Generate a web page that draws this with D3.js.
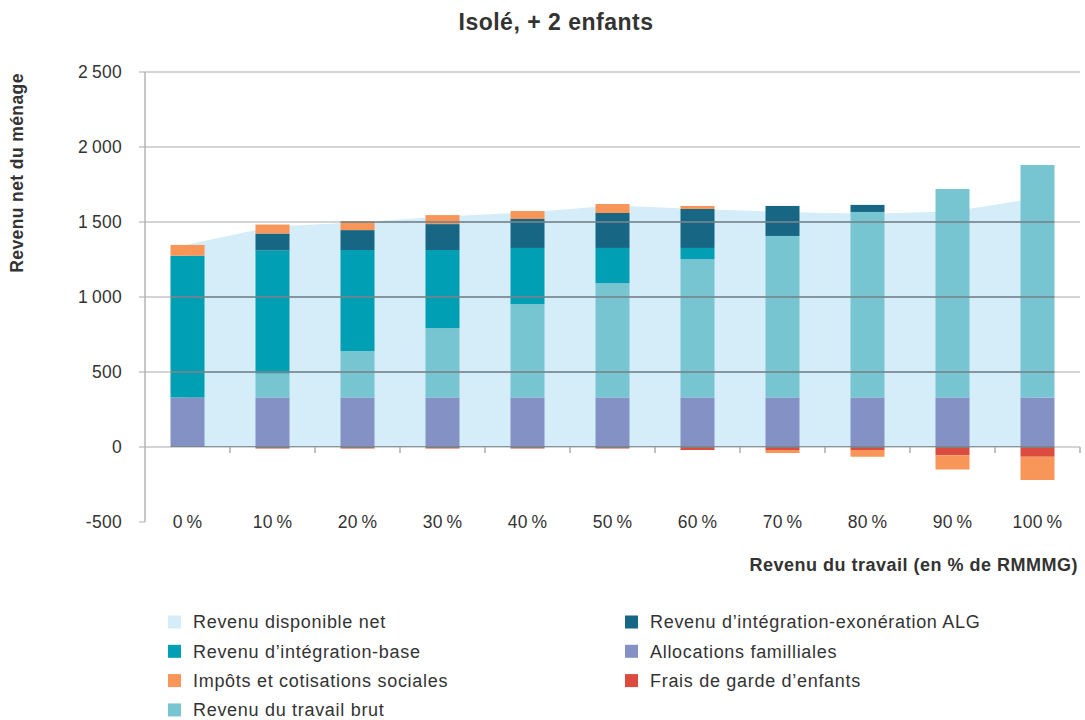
<!DOCTYPE html>
<html>
<head>
<meta charset="utf-8">
<script src="https://cdn.jsdelivr.net/npm/d3@7"></script>
<style>
  body { margin: 0; background: #fff; }
  text { font-family: "Liberation Sans", Arial, sans-serif; fill: #333; }
</style>
</head>
<body>
<svg class="chart" width="1085" height="720"></svg>
<script>
// données
var categories = ["0 %", "10 %", "20 %", "30 %", "40 %", "50 %", "60 %", "70 %", "80 %", "90 %", "100 %"];
var allocations = [330, 330, 330, 330, 330, 330, 330, 330, 330, 330, 330];
var travail     = [0, 160, 310, 463, 623, 763, 923, 1077, 1237, 1390, 1550];
var base        = [945, 820, 673, 520, 374, 234, 74, 0, 0, 0, 0];
var alg         = [0, 113, 133, 173, 193, 233, 260, 200, 47, 0, 0];
var impots      = [72, 60, 60, 60, 53, 60, 20, -20, -45, -95, -155];
var frais       = [0, -10, -10, -10, -10, -10, -20, -20, -20, -55, -65];
var netDispo    = [1350, 1470, 1497, 1537, 1563, 1610, 1587, 1567, 1555, 1570, 1660];
var yTicks = [-500, 0, 500, 1000, 1500, 2000, 2500];

var keys = ["allocations", "travail", "base", "alg", "frais", "impots"];
var colors = {
  net: "#d5ecf9", base: "#009fb4", alg: "#176784", impots: "#f79658",
  travail: "#78c5d2", allocations: "#8391c5", frais: "#db4b3f"
};

var rows = categories.map(function(c, i) {
  return {cat: c, allocations: allocations[i], travail: travail[i], base: base[i],
          alg: alg[i], frais: frais[i], impots: impots[i], net: netDispo[i]};
});

var svg = d3.select(".chart"),
    margin = {top: 72, right: 5, bottom: 198, left: 145},
    width = +svg.attr("width") - margin.left - margin.right,
    height = +svg.attr("height") - margin.top - margin.bottom;

var x = d3.scaleBand().domain(categories).range([margin.left, margin.left + width])
    .paddingInner(0.6).paddingOuter(0.3);
var y = d3.scaleLinear().domain([-500, 2500]).range([margin.top + height, margin.top]);

var series = d3.stack().keys(keys).offset(d3.stackOffsetDiverging)(rows);

// surface revenu disponible net
var area = d3.area()
    .x(function(d) { return x(d.cat) + x.bandwidth() / 2; })
    .y0(y(0))
    .y1(function(d) { return y(d.net); });

svg.append("path").datum(rows)
    .attr("d", area)
    .attr("fill", colors.net);

// barres empilées
svg.append("g").selectAll("g")
    .data(series)
  .enter().append("g")
    .attr("fill", function(s) { return colors[s.key]; })
  .selectAll("rect")
    .data(function(s) { return s; })
  .enter().append("rect")
    .attr("x", function(d) { return x(d.data.cat); })
    .attr("width", x.bandwidth())
    .attr("y", function(d) { return y(Math.max(d[0], d[1])); })
    .attr("height", function(d) { return Math.abs(y(d[0]) - y(d[1])); });

// clip pour assombrir la grille sur les marques
var clip = svg.append("clipPath").attr("id", "marks");
clip.append("path").datum(rows).attr("d", area);
series.forEach(function(s) {
  s.forEach(function(d) {
    if (d[0] === d[1]) return;
    clip.append("rect")
        .attr("x", x(d.data.cat))
        .attr("width", x.bandwidth())
        .attr("y", y(Math.max(d[0], d[1])))
        .attr("height", Math.abs(y(d[0]) - y(d[1])));
  });
});

var gridVals = yTicks.filter(function(v) { return v > -500; });

svg.append("g").selectAll("line")
    .data(gridVals)
  .enter().append("line")
    .attr("x1", margin.left - 6).attr("x2", margin.left + width)
    .attr("y1", function(d) { return y(d); }).attr("y2", function(d) { return y(d); })
    .attr("stroke", "#c6c6c6").attr("stroke-width", 1.4);

svg.append("g").attr("clip-path", "url(#marks)").selectAll("line")
    .data(gridVals)
  .enter().append("line")
    .attr("x1", margin.left).attr("x2", margin.left + width)
    .attr("y1", function(d) { return y(d); }).attr("y2", function(d) { return y(d); })
    .attr("stroke", "rgba(0,40,55,0.45)").attr("stroke-width", 1.4);

// axe y
svg.append("line")
    .attr("x1", margin.left).attr("x2", margin.left)
    .attr("y1", y(2500)).attr("y2", y(-500))
    .attr("stroke", "#b4b4b4").attr("stroke-width", 1.5);
svg.append("line")
    .attr("x1", margin.left - 6).attr("x2", margin.left)
    .attr("y1", y(-500)).attr("y2", y(-500))
    .attr("stroke", "#c6c6c6").attr("stroke-width", 1.4);

svg.append("g").selectAll("text")
    .data(yTicks)
  .enter().append("text")
    .attr("x", 122)
    .attr("y", function(d) { return y(d); })
    .attr("dy", "0.36em")
    .style("text-anchor", "end")
    .style("font-size", "17.5px")
    .style("letter-spacing", "0.3px")
    .text(function(d) {
      var s = String(Math.abs(d));
      if (s.length > 3) s = s.slice(0, s.length - 3) + "\u2009" + s.slice(-3);
      return (d < 0 ? "-" : "") + s;
    });

// graduations de l'axe x
var bounds = categories.map(function(c) { return x(c) + x.bandwidth() / 2 + x.step() / 2; });
svg.append("g").selectAll("line")
    .data(bounds)
  .enter().append("line")
    .attr("x1", function(d) { return d; }).attr("x2", function(d) { return d; })
    .attr("y1", y(0)).attr("y2", y(0) + 6)
    .attr("stroke", "#a8a8a8").attr("stroke-width", 1.4);

svg.append("g").selectAll("text")
    .data(categories)
  .enter().append("text")
    .attr("x", function(d) { return x(d) + x.bandwidth() / 2; })
    .attr("y", y(-500))
    .attr("dy", "0.36em")
    .style("text-anchor", "middle")
    .style("font-size", "17.5px")
    .style("letter-spacing", "0.3px")
    .text(function(d) { return d.replace(" ", "\u2009"); });

// titres
svg.append("text")
    .attr("x", 556).attr("y", 30)
    .style("text-anchor", "middle")
    .style("font-size", "23px").style("font-weight", "bold")
    .style("letter-spacing", "0.5px")
    .text("Isolé, + 2 enfants");

svg.append("text")
    .attr("transform", "translate(23,173) rotate(-90)")
    .style("text-anchor", "middle")
    .style("font-size", "17.5px").style("font-weight", "bold")
    .style("letter-spacing", "0.4px")
    .text("Revenu net du ménage");

svg.append("text")
    .attr("x", 1078).attr("y", 571)
    .style("text-anchor", "end")
    .style("font-size", "18px").style("font-weight", "bold")
    .style("letter-spacing", "0.5px")
    .text("Revenu du travail (en % de RMMMG)");

// légende
var legend = [
  {label: "Revenu disponible net", key: "net", col: 0, row: 0},
  {label: "Revenu d\u2019intégration-base", key: "base", col: 0, row: 1},
  {label: "Impôts et cotisations sociales", key: "impots", col: 0, row: 2},
  {label: "Revenu du travail brut", key: "travail", col: 0, row: 3},
  {label: "Revenu d\u2019intégration-exonération ALG", key: "alg", col: 1, row: 0},
  {label: "Allocations familliales", key: "allocations", col: 1, row: 1},
  {label: "Frais de garde d\u2019enfants", key: "frais", col: 1, row: 2}
];

var lg = svg.append("g").selectAll("g")
    .data(legend)
  .enter().append("g")
    .attr("transform", function(d) {
      return "translate(" + (d.col ? 625 : 168) + "," + (622 + d.row * 29.3) + ")";
    });
lg.append("rect")
    .attr("x", 0).attr("y", -6.5)
    .attr("width", 13).attr("height", 13)
    .attr("fill", function(d) { return colors[d.key]; });
lg.append("text")
    .attr("x", 25).attr("dy", "0.36em")
    .style("font-size", "18px")
    .style("letter-spacing", "0.7px")
    .text(function(d) { return d.label; });
</script>
</body>
</html>
